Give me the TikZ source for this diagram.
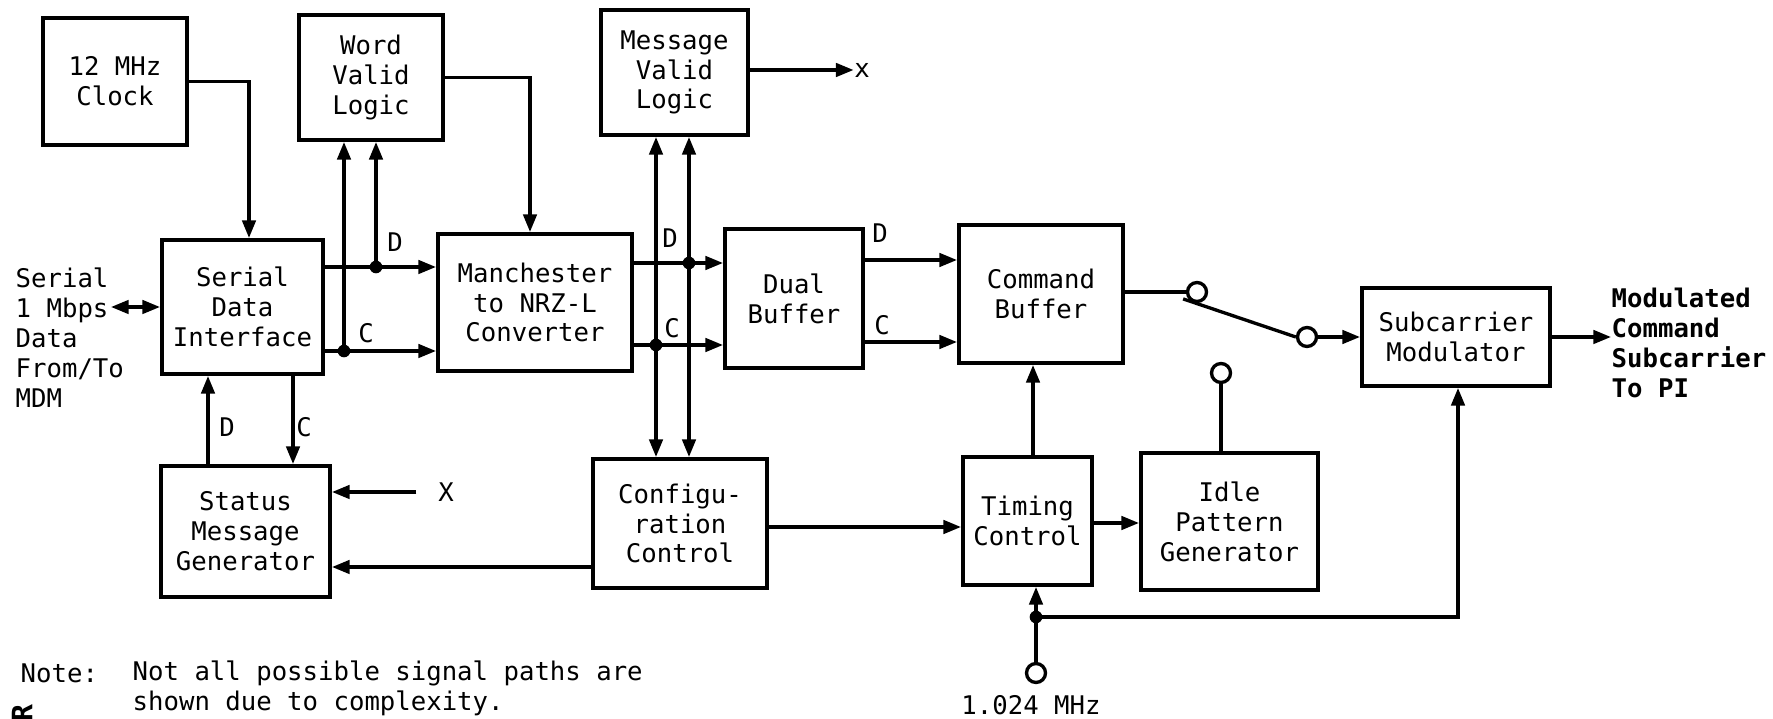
\documentclass[tikz,border=0pt]{standalone}
\usepackage{fontspec}
\setmainfont{DejaVu Sans Mono}
\usetikzlibrary{arrows.meta, positioning, calc}

\begin{document}
\begin{tikzpicture}[
    x=0.01cm, y=-0.01cm,
    font=\fontsize{7.3}{8.5}\selectfont,
    blk/.style={draw, line width=1.1pt, align=center, inner sep=0pt},
    wire/.style={line width=0.95pt},
    sig/.style={wire, -{Triangle[length=5pt, width=3.8pt]}},
    bus/.style={wire, {Triangle[length=5pt, width=3.8pt]}-{Triangle[length=5pt, width=3.8pt]}},
    dot/.style={circle, fill, inner sep=0pt, minimum size=3.6pt},
    term/.style={circle, draw, line width=0.95pt, inner sep=0pt, minimum size=5.4pt},
    txt/.style={inner sep=0pt, align=left}
]
\useasboundingbox (0,0) rectangle (1773,719);

% blocks
\node[blk, minimum width=1.44cm, minimum height=1.27cm] (clock) at (115,81.5) {12 MHz\\Clock};
\node[blk, minimum width=1.44cm, minimum height=1.25cm] (wvl) at (371,77.5) {Word\\Valid\\Logic};
\node[blk, minimum width=1.47cm, minimum height=1.25cm] (mvl) at (674.5,72.5) {Message\\Valid\\Logic};
\node[blk, minimum width=1.61cm, minimum height=1.34cm] (sdi) at (242.5,307) {Serial\\Data\\Interface};
\node[blk, minimum width=1.94cm, minimum height=1.37cm] (mnc) at (535,302.5) {Manchester\\to NRZ-L\\Converter};
\node[blk, minimum width=1.38cm, minimum height=1.39cm] (dbuf) at (794,298.5) {Dual\\Buffer};
\node[blk, minimum width=1.64cm, minimum height=1.38cm] (cbuf) at (1041,294) {Command\\Buffer};
\node[blk, minimum width=1.88cm, minimum height=0.98cm] (scm) at (1456,337) {Subcarrier\\Modulator};
\node[blk, minimum width=1.69cm, minimum height=1.31cm] (smg) at (245.5,531.5) {Status\\Message\\Generator};
\node[blk, minimum width=1.74cm, minimum height=1.29cm] (cfg) at (680,523.5) {Configu-\\ration\\Control};
\node[blk, minimum width=1.29cm, minimum height=1.28cm] (tmc) at (1027.5,521) {Timing\\Control};
\node[blk, minimum width=1.77cm, minimum height=1.37cm] (ipg) at (1229.5,521.5) {Idle\\Pattern\\Generator};

% outside labels
\node[txt, anchor=west] (mdmlbl) at (15,337.5) {Serial\\1 Mbps\\Data\\From/To\\MDM};
\coordinate (mdm) at (111,307);
\node[txt, anchor=west, font=\fontsize{7.3}{8.5}\selectfont\bfseries] (outlbl) at (1611,343) {Modulated\\Command\\Subcarrier\\To PI};
\node[txt] (xout) at (862,70) {x};
\node[inner sep=6pt] (xin) at (446,492) {X};
\node[txt] (freq) at (1031,705) {1.024 MHz};
\node[txt, anchor=west] (note) at (20,673) {Note:};
\node[txt, anchor=west] (notetext) at (132,688) {Not all possible signal paths are\\shown due to complexity.};
\node[rotate=90, inner sep=0pt, font=\fontsize{8}{8}\selectfont\bfseries] (edge) at (22,713) {R};

% D / C labels
\node[txt] (d1) at (395,242) {D};
\node[txt] (c1) at (366,333) {C};
\node[txt] (d2) at (670,238) {D};
\node[txt] (c2) at (672,328) {C};
\node[txt] (d3) at (880,233) {D};
\node[txt] (c3) at (882,325) {C};
\node[txt] (d4) at (227,427) {D};
\node[txt] (c4) at (304,427) {C};

% clock and word valid feeds
\draw[sig] (clock.east) -| (sdi.north -| 249,0);
\draw[sig] (wvl.east) -| (mnc.north -| 530,0);
\draw[sig] (mvl.east |- xout) -- (xout.west);
\draw[bus] (mdm) -- (sdi.west |- mdm);

% serial data interface outputs
\node[dot] (jd1) at (376,267) {};
\node[dot] (jc1) at (344,351) {};
\draw[sig] (sdi.east |- jd1) -- (mnc.west |- jd1);
\draw[sig] (sdi.east |- jc1) -- (mnc.west |- jc1);
\draw[sig] (jd1.center) -- (wvl.south -| jd1);
\draw[sig] (jc1.center) -- (wvl.south -| jc1);
\draw[sig] (smg.north -| 208,0) -- (sdi.south -| 208,0);
\draw[sig] (sdi.south -| 293,0) -- (smg.north -| 293,0);

% converter outputs
\node[dot] (jd2) at (689,263) {};
\node[dot] (jc2) at (656,345) {};
\draw[sig] (mnc.east |- jd2) -- (dbuf.west |- jd2);
\draw[sig] (mnc.east |- jc2) -- (dbuf.west |- jc2);
\draw[bus] (mvl.south -| jd2) -- (cfg.north -| jd2);
\draw[bus] (mvl.south -| jc2) -- (cfg.north -| jc2);
\draw[sig] (dbuf.east |- 0,260) -- (cbuf.west |- 0,260);
\draw[sig] (dbuf.east |- 0,342) -- (cbuf.west |- 0,342);

% switch
\node[term] (sw1) at (1197,292) {};
\node[term] (sw2) at (1307,337) {};
\node[term] (sw3) at (1221,373) {};
\draw[wire] (cbuf.east |- sw1) -- (sw1.west);
\draw[wire] ($(sw1.south west)+(-6,-1)$) -- (sw2.west);
\draw[sig] (sw2.east) -- (scm.west |- sw2);
\draw[wire] (sw3.south) -- (ipg.north -| sw3);
\draw[sig] (scm.east) -- (outlbl.west |- scm.east);

% lower row
\draw[sig] (xin.west) -- (smg.east |- xin);
\draw[sig] (cfg.west |- 0,567) -- (smg.east |- 0,567);
\draw[sig] (cfg.east |- 0,527) -- (tmc.west |- 0,527);
\draw[sig] (tmc.east |- 0,523) -- (ipg.west |- 0,523);
\draw[sig] (tmc.north -| 1033,0) -- (cbuf.south -| 1033,0);

% 1.024 MHz input
\node[term] (clk2) at (1036,673) {};
\node[dot] (jt) at (1036,617) {};
\draw[wire] (clk2.north) -- (jt.center);
\draw[sig] (jt.center) -- (tmc.south -| jt);
\draw[sig] (jt.center) -| (scm.south -| 1458,0);
\end{tikzpicture}
\end{document}
